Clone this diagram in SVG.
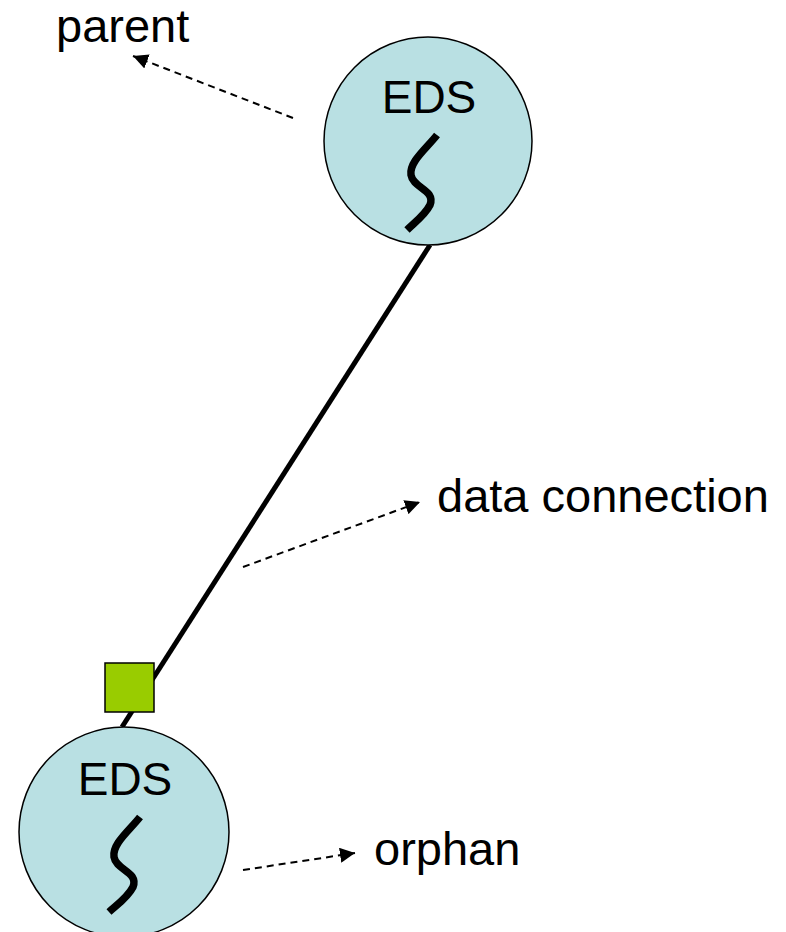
<svg xmlns="http://www.w3.org/2000/svg" width="786" height="932" viewBox="0 0 786 932">
<style>
.node{fill:#b9e0e3;stroke:#000;stroke-width:1.5}
.lbl{font-family:"Liberation Sans",Arial,sans-serif;font-size:47px;fill:#000}
.eds{font-family:"Liberation Sans",Arial,sans-serif;font-size:46px;fill:#000;text-anchor:middle}
.squig{fill:none;stroke:#000;stroke-width:7.5;stroke-linecap:butt}
.dash{fill:none;stroke:#000;stroke-width:2;stroke-dasharray:7,5}
</style>
<defs>
<marker id="ah" viewBox="0 0 10 10" refX="10" refY="5" markerWidth="7.5" markerHeight="7.5" markerUnits="strokeWidth" orient="auto">
<path d="M0,0 L10,5 L0,10 z" fill="#000"/>
</marker>
</defs>
<g id="connectors">
<line x1="430" y1="245" x2="122" y2="727" stroke="#000" stroke-width="5"/>
<line class="dash" x1="293" y1="118" x2="133" y2="56" marker-end="url(#ah)"/>
<line class="dash" x1="243" y1="567" x2="420" y2="502" marker-end="url(#ah)"/>
<line class="dash" x1="243" y1="870" x2="355" y2="853" marker-end="url(#ah)"/>
</g>
<g id="parent-node">
<circle class="node" cx="428" cy="141" r="104"/>
<text class="eds" x="429" y="113">EDS</text>
<path class="squig" d="M437,135 C426,149 409,162 411,175 C413,188 436,190 430,205 C425,215 415,222 407,230"/>
</g>
<g id="orphan-node">
<circle class="node" cx="124" cy="832" r="105"/>
<text class="eds" x="125" y="795">EDS</text>
<path class="squig" d="M140,817 C129,831 112,844 114,857 C116,870 139,872 133,887 C128,897 118,904 109,912"/>
</g>
<g id="port">
<rect x="105" y="663" width="49" height="49" fill="#99cc00" stroke="#000" stroke-width="1.5"/>
</g>
<g id="labels">
<text class="lbl" x="56" y="42">parent</text>
<text class="lbl" x="437" y="512">data connection</text>
<text class="lbl" x="374" y="865">orphan</text>
</g>
</svg>
